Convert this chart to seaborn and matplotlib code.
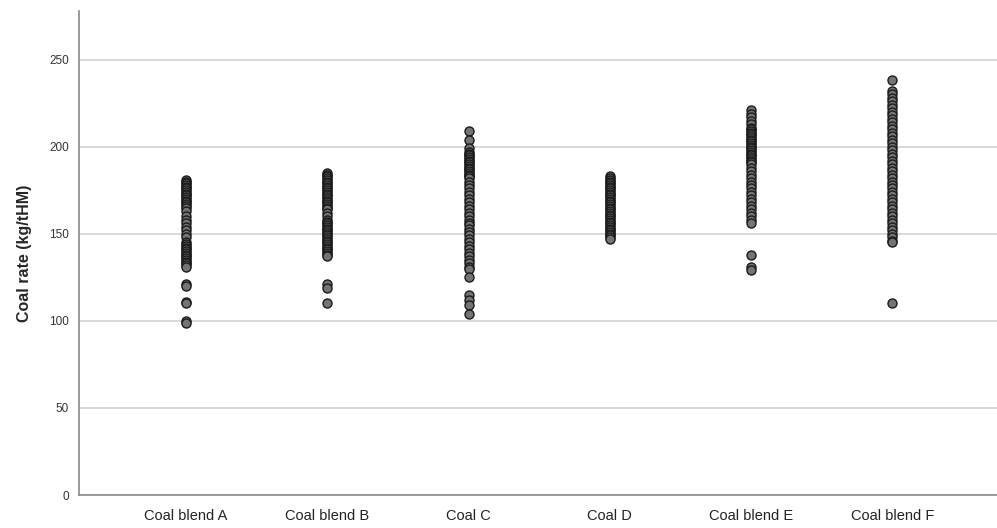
import pandas as pd
import seaborn as sns
from matplotlib import pyplot as plt

# Coal rate (kg/tHM) per coal / blend
categories = ['Coal blend A', 'Coal blend B', 'Coal C', 'Coal D', 'Coal blend E', 'Coal blend F']

blend_a = [181, 180, 179, 178, 177, 176, 175, 174, 173, 172, 171, 170, 169, 168, 167, 166, 165,
           163, 160, 158, 156, 154, 152, 150, 148, 145, 144, 143, 142, 141, 140, 139, 138, 137,
           136, 135, 134, 133, 132, 131, 121, 120, 111, 110, 100, 99]
blend_b = [185, 184, 183, 182, 181, 180, 179, 178, 177, 176, 175, 174, 173, 172, 171, 170, 169,
           168, 167, 166, 165, 164, 162, 160, 158, 157, 156, 155, 154, 153, 152, 151, 150, 149,
           148, 147, 146, 145, 144, 143, 142, 141, 140, 139, 138, 137, 121, 119, 110]
coal_c = [209, 204, 199, 197, 196, 195, 194, 193, 192, 191, 190, 189, 188, 187, 186, 185, 184,
          183, 182, 180, 178, 176, 174, 172, 170, 168, 166, 164, 162, 160, 158, 156, 155, 153,
          151, 149, 147, 145, 143, 141, 139, 137, 135, 133, 131, 130, 125, 115, 112, 109, 104]
coal_d = [183, 182, 181, 180, 179, 178, 177, 176, 175, 174, 173, 172, 171, 170, 169, 168, 167,
          166, 165, 164, 163, 162, 161, 160, 159, 158, 157, 156, 155, 154, 153, 152, 151, 150,
          149, 148, 147]
blend_e = [221, 219, 217, 215, 213, 211, 210, 209, 208, 207, 206, 205, 204, 203, 202, 201, 200,
           199, 198, 197, 196, 195, 194, 193, 192, 191, 190, 188, 186, 184, 182, 180, 178, 176,
           174, 172, 170, 168, 166, 164, 162, 160, 158, 156, 138, 131, 129]
blend_f = [238, 232, 230, 228, 226, 224, 222, 220, 218, 216, 214, 212, 210, 208, 206, 204, 202,
           200, 198, 196, 194, 192, 190, 188, 186, 184, 182, 180, 178, 176, 174, 172, 170, 168,
           166, 164, 162, 160, 158, 156, 154, 152, 150, 148, 146, 145, 110]

y_ticks = [0, 50, 100, 150, 200, 250]

series = [blend_a, blend_b, coal_c, coal_d, blend_e, blend_f]
rows = []
for name, values in zip(categories, series):
    for v in values:
        rows.append({'Coal': name, 'Coal rate (kg/tHM)': v})
data = pd.DataFrame(rows)

sns.set_theme(style='white')
plt.rcParams['font.family'] = ['Liberation Sans', 'DejaVu Sans']

fig = plt.figure(figsize=(9.97, 5.28), dpi=100)
ax = fig.add_axes([0.079, 0.0625, 0.921, 0.917])

sns.stripplot(data=data, x='Coal', y='Coal rate (kg/tHM)', order=categories,
              jitter=False, size=6.5, color='#747474', edgecolor='#1a1a1a',
              linewidth=1.0, ax=ax, zorder=3)

ax.set_xlim(-0.76, 5.74)
ax.set_ylim(0, 278)
ax.set_yticks(y_ticks)
ax.yaxis.grid(True, color='#d2d2d2', linewidth=1.2)
ax.set_axisbelow(True)

for side in ['top', 'right']:
    ax.spines[side].set_visible(False)
for side in ['left', 'bottom']:
    ax.spines[side].set_color('#8a8a8a')
    ax.spines[side].set_linewidth(1.2)

ax.tick_params(axis='y', length=0, labelsize=8.5, labelcolor='#333333', pad=7)
ax.tick_params(axis='x', length=0, labelsize=10.5, labelcolor='#222222', pad=10)
ax.set_xlabel('')
ax.set_ylabel('Coal rate (kg/tHM)', fontsize=11.5, fontweight='bold', labelpad=12)

fig.savefig('out.png', dpi=100)
plt.close()
